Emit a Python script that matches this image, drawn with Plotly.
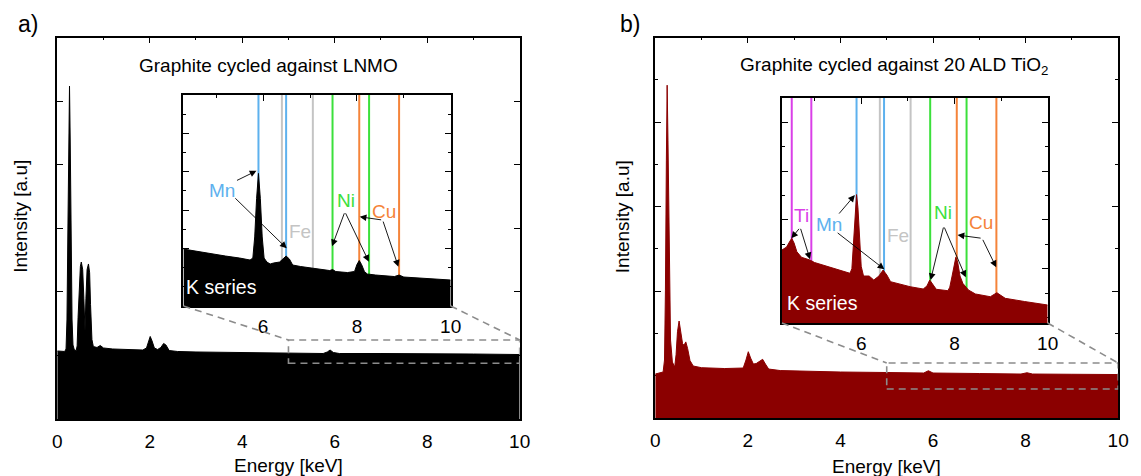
import plotly.graph_objects as go

W, H = 1141, 476
FONT = "Liberation Sans, Arial, sans-serif"
FS = 19

# ---------------- data ----------------
# panel a: main spectrum (Energy keV, intensity a.u.)
energy_a = [0.00, 0.10, 0.16, 0.19, 0.21, 0.23, 0.25, 0.265, 0.28, 0.30, 0.32, 0.34, 0.37,
            0.41, 0.43, 0.45, 0.47, 0.50, 0.52, 0.55, 0.575, 0.60, 0.62, 0.645, 0.675,
            0.70, 0.72, 0.75, 0.78, 0.82, 0.86, 0.93, 1.00, 1.20, 1.50, 1.85, 1.93, 1.97,
            2.01, 2.05, 2.10, 2.17, 2.24, 2.30, 2.35, 2.42, 2.60, 3.00, 4.00, 5.00, 5.75,
            5.84, 5.90, 5.97, 6.10, 7.00, 8.00, 9.00, 10.0]
counts_a = [1.070, 1.070, 1.062, 1.101, 1.557, 2.973, 4.545, 5.237, 4.388, 2.815, 1.557,
            1.164, 1.085, 1.077, 1.15, 1.60, 2.00, 2.40, 2.469, 2.35, 1.90, 1.38, 1.90,
            2.35, 2.438, 2.30, 1.80, 1.25, 1.14, 1.132, 1.125, 1.156, 1.117, 1.101, 1.093,
            1.085, 1.117, 1.227, 1.298, 1.227, 1.117, 1.093, 1.125, 1.188, 1.164, 1.077,
            1.062, 1.054, 1.046, 1.038, 1.030, 1.054, 1.085, 1.046, 1.030, 1.030, 1.030,
            1.022, 1.014]

# panel b: main spectrum
energy_b = [0.00, 0.12, 0.17, 0.20, 0.22, 0.24, 0.257, 0.275, 0.30, 0.33, 0.37, 0.42, 0.45,
            0.48, 0.515, 0.55, 0.59, 0.62, 0.66, 0.70, 0.75, 0.82, 1.00, 1.50, 1.90,
            1.96, 2.01, 2.06, 2.12, 2.18, 2.32, 2.38, 2.45, 2.70, 3.00, 4.00, 5.00, 5.80,
            5.90, 6.00, 7.00, 7.90, 8.03, 8.15, 9.00, 10.0]
counts_b = [1.020, 1.032, 1.044, 1.186, 2.013, 3.550, 4.436, 3.786, 2.368, 1.422, 1.162,
            1.103, 1.25, 1.52, 1.647, 1.52, 1.38, 1.36, 1.40, 1.32, 1.18, 1.115, 1.095,
            1.085, 1.091, 1.186, 1.284, 1.209, 1.138, 1.144, 1.194, 1.138, 1.079, 1.061,
            1.056, 1.044, 1.038, 1.032, 1.059, 1.032, 1.026, 1.020, 1.035, 1.020, 1.017,
            1.014]

# inset a: K-series region (zoomed intensity scale)
inset_energy_a = [4.30, 4.60, 4.90, 5.20, 5.50, 5.72, 5.78, 5.82, 5.86, 5.90, 5.94, 5.98,
                  6.02, 6.08, 6.15, 6.22, 6.35, 6.42, 6.49, 6.56, 6.63, 6.80, 7.06, 7.30,
                  7.42, 7.48, 7.55, 7.80, 7.95, 8.00, 8.05, 8.10, 8.16, 8.22, 8.40, 8.80,
                  8.90, 9.00, 9.50, 10.0]
inset_counts_a = [1.984, 1.919, 1.867, 1.802, 1.750, 1.698, 1.75, 2.30, 3.30, 3.956,
                  3.30, 2.30, 1.75, 1.646, 1.594, 1.620, 1.646, 1.724, 1.802, 1.724,
                  1.568, 1.529, 1.482, 1.438, 1.424, 1.451, 1.398, 1.372, 1.40, 1.58,
                  1.685, 1.58, 1.40, 1.335, 1.307, 1.268, 1.307, 1.255, 1.216, 1.177]

# inset b: K-series region
inset_energy_b = [4.30, 4.40, 4.46, 4.51, 4.56, 4.62, 4.72, 4.90, 5.00, 5.29, 5.64, 5.76,
                  5.80, 5.84, 5.87, 5.90, 5.93, 5.96, 6.00, 6.05, 6.17, 6.27, 6.38, 6.47,
                  6.55, 6.63, 6.80, 7.05, 7.33, 7.41, 7.47, 7.53, 7.61, 7.86, 7.90, 7.95,
                  8.00, 8.03, 8.07, 8.12, 8.18, 8.24, 8.30, 8.45, 8.77, 8.91, 9.09, 9.50,
                  10.0]
inset_counts_b = [2.383, 2.445, 2.547, 2.623, 2.527, 2.348, 2.234, 2.178, 2.127, 2.041,
                  1.939, 1.906, 2.00, 2.70, 3.25, 3.520, 3.25, 2.70, 2.05, 1.850, 1.850,
                  1.768, 1.850, 1.973, 1.871, 1.734, 1.686, 1.631, 1.584, 1.645, 1.768,
                  1.686, 1.578, 1.549, 1.62, 1.85, 2.13, 2.234, 2.13, 1.85, 1.70, 1.63,
                  1.564, 1.482, 1.426, 1.508, 1.393, 1.328, 1.256]

# characteristic K lines (keV)
line_elements = ["Ti", "Mn", "Fe", "Ni", "Cu"]
line_kalpha = [4.51, 5.90, 6.40, 7.48, 8.05]
line_kbeta = [4.93, 6.49, 7.06, 8.26, 8.90]
line_colors = ["#DA3FE8", "#5DB1EE", "#C4C4C4", "#3BE03B", "#F5843A"]
elements_a = ["Mn", "Fe", "Ni", "Cu"]
elements_b = ["Ti", "Mn", "Fe", "Ni", "Cu"]

# main x ticks
main_ticks = [0, 2, 4, 6, 8, 10]
inset_ticks = [6, 8, 10]

# ---------------- geometry ----------------
def dom_x(a, b):
    return [a / W, b / W]

def dom_y(bottom, top):
    return [1 - bottom / H, 1 - top / H]

A_X, A_Y = dom_x(53, 522), dom_y(419, 37.5)
AI_X, AI_Y = dom_x(181, 452), dom_y(306, 95)
B_X, B_Y = dom_x(659.5, 1129), dom_y(418, 37.5)
BI_X, BI_Y = dom_x(788, 1057.5), dom_y(323, 98)

A_XR, A_YR = [0, 10], [0, 6.0]
AI_XR, AI_YR = [4.3, 10], [0.5, 6.0]
B_XR, B_YR = [0, 10], [0.5, 5.0]
BI_XR, BI_YR = [4.3, 10], [0.887, 5.5]

# zoom boxes in main axes coordinates
zoom_a = dict(x0=5, x1=10, y0=0.876, y1=1.243)
zoom_b = dict(x0=5, x1=10, y0=0.843, y1=1.15)

fig = go.Figure()

def add_panel(energy, counts, iener, icounts, color, xm, ym, xi, yi, yir, elements):
    fig.add_trace(go.Scatter(x=energy, y=counts, mode="lines", fill="tozeroy",
                             line=dict(color=color, width=1), fillcolor=color,
                             xaxis=xm, yaxis=ym, showlegend=False, hoverinfo="skip"))
    for el in elements:
        k = line_elements.index(el)
        for e in (line_kalpha[k], line_kbeta[k]):
            fig.add_trace(go.Scatter(x=[e, e], y=[yir[0], yir[1]], mode="lines",
                                     line=dict(color=line_colors[k], width=2),
                                     xaxis=xi, yaxis=yi, showlegend=False, hoverinfo="skip"))
    fig.add_trace(go.Scatter(x=iener, y=icounts, mode="lines", fill="tozeroy",
                             line=dict(color=color, width=1), fillcolor=color,
                             xaxis=xi, yaxis=yi, showlegend=False, hoverinfo="skip"))

add_panel(energy_a, counts_a, inset_energy_a, inset_counts_a, "#000000",
          "x", "y", "x2", "y2", AI_YR, elements_a)
add_panel(energy_b, counts_b, inset_energy_b, inset_counts_b, "#8B0000",
          "x3", "y3", "x4", "y4", BI_YR, elements_b)

axis_common = dict(showgrid=False, zeroline=False, showline=True, linecolor="black",
                   linewidth=1.5, mirror="ticks", ticks="inside", tickcolor="black",
                   tickwidth=1.2, layer="below traces",
                   tickfont=dict(family=FONT, size=FS, color="black"))

def minor(t0, dt):
    return dict(tick0=t0, dtick=dt, ticklen=3, ticks="inside", tickcolor="black",
                tickwidth=1.2, showgrid=False)

def xmain(dom, anchor, layer):
    return dict(axis_common, domain=dom, anchor=anchor, range=[0, 10],
                tickvals=main_ticks, ticklen=6, layer=layer,
                minor=minor(1, 2), ticklabelstandoff=4)

def xinset(dom, anchor):
    return dict(axis_common, domain=dom, anchor=anchor, range=[4.3, 10],
                tickvals=inset_ticks, ticklen=6, minor=minor(5, 2), ticklabelstandoff=2)

fig.update_layout(
    width=W, height=H, margin=dict(l=0, r=0, t=0, b=0),
    paper_bgcolor="white", plot_bgcolor="white", showlegend=False,
    font=dict(family=FONT, size=FS, color="black"),
    xaxis=xmain(A_X, "y", "above traces"),
    yaxis=dict(axis_common, domain=A_Y, anchor="x", range=A_YR, dtick=1, tick0=0,
               ticklen=6, showticklabels=False, layer="above traces"),
    xaxis2=xinset(AI_X, "y2"),
    yaxis2=dict(axis_common, domain=AI_Y, anchor="x2", range=AI_YR, dtick=1, tick0=0,
                ticklen=6, showticklabels=False, minor=minor(0.5, 1)),
    xaxis3=xmain(B_X, "y3", "below traces"),
    yaxis3=dict(axis_common, domain=B_Y, anchor="x3", range=B_YR, dtick=1, tick0=0,
                ticklen=6, showticklabels=False, minor=minor(0.5, 1)),
    xaxis4=xinset(BI_X, "y4"),
    yaxis4=dict(axis_common, domain=BI_Y, anchor="x4", range=BI_YR, dtick=1, tick0=0,
                ticklen=6, showticklabels=False, minor=minor(0.5, 1)),
)

# ---------------- zoom box + connectors ----------------
def to_paper(dom, rng, v):
    return dom[0] + (v - rng[0]) / (rng[1] - rng[0]) * (dom[1] - dom[0])

DASH = dict(color="#8C8C8C", width=1.6, dash="7px,5px")
shapes = []
for zb, xm, ym, XD, YD, XR, YR, IXD, IYD in [
        (zoom_a, "x", "y", A_X, A_Y, A_XR, A_YR, AI_X, AI_Y),
        (zoom_b, "x3", "y3", B_X, B_Y, B_XR, B_YR, BI_X, BI_Y)]:
    shapes.append(dict(type="rect", xref=xm, yref=ym, x0=zb["x0"], x1=zb["x1"],
                       y0=zb["y0"], y1=zb["y1"], line=DASH, layer="above"))
    top_p = to_paper(YD, YR, zb["y1"])
    shapes.append(dict(type="line", xref="paper", yref="paper",
                       x0=IXD[0], y0=IYD[0], x1=to_paper(XD, XR, zb["x0"]), y1=top_p,
                       line=DASH, layer="above"))
    shapes.append(dict(type="line", xref="paper", yref="paper",
                       x0=IXD[1], y0=IYD[0], x1=to_paper(XD, XR, zb["x1"]), y1=top_p,
                       line=DASH, layer="above"))
fig.update_layout(shapes=shapes)

# ---------------- annotations ----------------
ann = []

def ptext(x, y, text, size=FS, angle=0, color="black"):
    ann.append(dict(xref="paper", yref="paper", x=x / W, y=1 - y / H, text=text,
                    showarrow=False, xanchor="center", yanchor="middle", textangle=angle,
                    font=dict(family=FONT, size=size, color=color)))

ptext(23, 24, "a)", size=23)
ptext(634, 24, "b)", size=23)
ptext(267, 66, "Graphite cycled against LNMO")
ptext(902, 66, "Graphite cycled against 20 ALD TiO<sub>2</sub>")
ptext(16, 216, "Intensity [a.u]", angle=-90)
ptext(627, 217, "Intensity [a.u]", angle=-90)
ptext(287.5, 465, "Energy [keV]")
ptext(894, 466, "Energy [keV]")

def dtext(xr, yr, x, y, text, color, size=FS):
    ann.append(dict(xref=xr, yref=yr, x=x, y=y, text=text, showarrow=False,
                    xanchor="center", yanchor="middle",
                    font=dict(family=FONT, size=size, color=color)))

def arrow(xr, yr, tail, head):
    ann.append(dict(xref=xr, yref=yr, axref=xr, ayref=yr, x=head[0], y=head[1],
                    ax=tail[0], ay=tail[1], text="", showarrow=True, arrowhead=2,
                    arrowsize=1.5, arrowwidth=0.9, arrowcolor="black", standoff=0,
                    startstandoff=0))

col = dict(zip(line_elements, line_colors))
# inset a labels
dtext("x2", "y2", 5.116, 3.52, "Mn", col["Mn"])
dtext("x2", "y2", 6.777, 2.44, "Fe", col["Fe"])
dtext("x2", "y2", 7.765, 3.26, "Ni", col["Ni"])
dtext("x2", "y2", 8.584, 2.96, "Cu", col["Cu"])
dtext("x2", "y2", 5.105, 0.995, "K series", "white", size=19.5)
arrow("x2", "y2", (5.41, 3.755), (5.858, 4.023))
arrow("x2", "y2", (5.374, 3.346), (6.503, 2.003))
arrow("x2", "y2", (7.744, 2.956), (7.47, 2.06))
arrow("x2", "y2", (7.744, 2.956), (8.255, 1.654))
arrow("x2", "y2", (8.549, 2.74), (8.059, 2.826))
arrow("x2", "y2", (8.549, 2.74), (8.885, 1.523))

# inset b labels
dtext("x4", "y4", 4.725, 3.084, "Ti", col["Ti"])
dtext("x4", "y4", 5.305, 2.912, "Mn", col["Mn"])
dtext("x4", "y4", 6.782, 2.68, "Fe", col["Fe"])
dtext("x4", "y4", 7.761, 3.152, "Ni", col["Ni"])
dtext("x4", "y4", 8.565, 2.947, "Cu", col["Cu"])
dtext("x4", "y4", 5.162, 1.307, "K series", "white", size=19.5)
arrow("x4", "y4", (4.691, 2.848), (4.501, 2.623))
arrow("x4", "y4", (4.691, 2.848), (4.902, 2.193))
arrow("x4", "y4", (5.499, 3.10), (5.864, 3.51))
arrow("x4", "y4", (5.463, 2.758), (6.497, 1.988))
arrow("x4", "y4", (7.771, 2.875), (7.489, 1.768))
arrow("x4", "y4", (7.771, 2.875), (8.242, 1.824))
arrow("x4", "y4", (8.594, 2.623), (8.067, 2.69))
arrow("x4", "y4", (8.594, 2.623), (8.896, 2.029))

fig.update_layout(annotations=ann)
fig.write_html("out.html", config={"displayModeBar": False},
               post_script="document.body.style.margin='0';document.body.style.overflow='hidden';")
